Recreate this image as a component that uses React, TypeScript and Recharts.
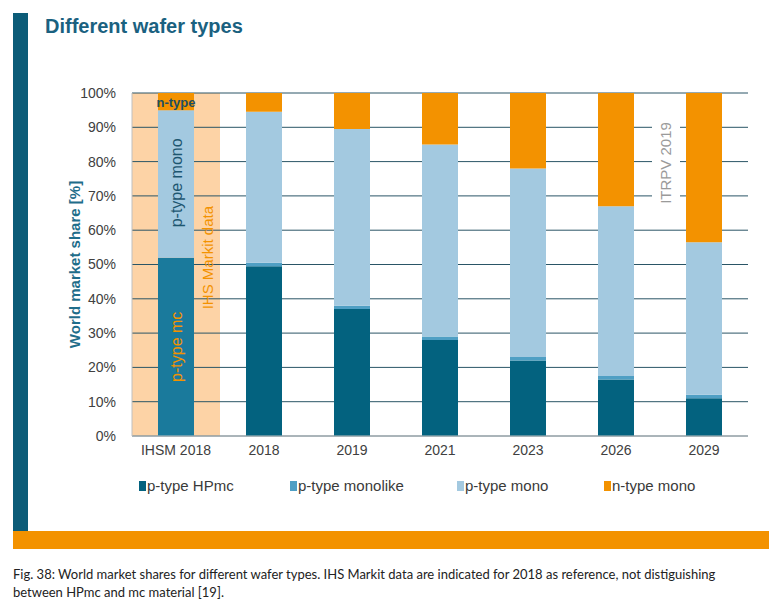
import React from "react";
import { BarChart, Bar, XAxis, YAxis, CartesianGrid, Legend, ReferenceArea, ReferenceDot, Cell } from "recharts";

const categories = ["IHSM 2018", "2018", "2019", "2021", "2023", "2026", "2029"];
const hpmc = [52, 49.5, 37, 28, 22, 16.5, 11];
const monolike = [0, 1, 1, 1, 1, 1, 1];
const mono = [43, 44, 51.5, 56, 55, 49.5, 44.5];
const ntype = [5, 5.5, 10.5, 15, 22, 33, 43.5];
const yTicks = [0, 10, 20, 30, 40, 50, 60, 70, 80, 90, 100];

const seriesNames = ["p-type HPmc", "p-type monolike", "p-type mono", "n-type mono"];
const seriesColors = ["#03627f", "#4f9fc4", "#a3c9e0", "#f39200"];
const ihsmMcColor = "#1a7a9c";

const data = categories.map((category, i) => ({
  category,
  hpmc: hpmc[i],
  monolike: monolike[i],
  mono: mono[i],
  ntype: ntype[i],
}));

const FONT = "Liberation Sans, Arial, sans-serif";

// squares sit at fixed spots in the original legend row
const legendWidths = [151, 167, 147, 120];

function renderLegend() {
  return (
    <div style={{ display: "flex", paddingLeft: 139, fontFamily: FONT, fontSize: 15, color: "#3a3a3a" }}>
      {seriesNames.map((name, i) => (
        <div key={name} style={{ width: legendWidths[i], display: "flex", alignItems: "center" }}>
          <span style={{ width: 7, height: 10, background: seriesColors[i], display: "inline-block", marginRight: 1 }} />
          <span>{name}</span>
        </div>
      ))}
    </div>
  );
}

const vText = (text: string, color: string, size: number, bold: boolean, dx = 0) => (p: any) => (
  <text
    x={p.cx + dx}
    y={p.cy}
    transform={`rotate(-90 ${p.cx + dx} ${p.cy})`}
    textAnchor="middle"
    dominantBaseline="central"
    fill={color}
    fontSize={size}
    fontWeight={bold ? "bold" : "normal"}
    fontFamily={FONT}
  >
    {text}
  </text>
);

export default function App() {
  return (
    <div style={{ position: "relative", width: 776, height: 607, background: "#fff", overflow: "hidden" }}>
      <style>{`body{margin:0}`}</style>
      <div style={{ position: "absolute", left: 13, top: 13, width: 15, height: 518, background: "#0c5c78" }} />
      <div style={{ position: "absolute", left: 13, top: 531, width: 756, height: 18, background: "#f39200" }} />
      <div
        style={{
          position: "absolute",
          left: 45,
          top: 15,
          fontFamily: FONT,
          fontWeight: "bold",
          fontSize: 20,
          color: "#1a6180",
        }}
      >
        Different wafer types
      </div>

      <div style={{ position: "absolute", left: 0, top: 0 }}>
        <BarChart
          width={776}
          height={520}
          data={data}
          barSize={36}
          margin={{ top: 93, right: 28, left: 70, bottom: 54 }}
        >
          <ReferenceArea x1="IHSM 2018" x2="IHSM 2018" y1={0} y2={100} fill="#fdd3a6" fillOpacity={1} stroke="none" zIndex={-150} />
          <CartesianGrid vertical={false} stroke="#2a5566" strokeWidth={1} />
          <XAxis
            dataKey="category"
            tickLine={false}
            axisLine={{ stroke: "#c0c0c0" }}
            tick={{ fill: "#404040", fontSize: 14, fontFamily: FONT }}
            tickMargin={3}
            height={30}
          />
          <YAxis
            domain={[0, 100]}
            allowDataOverflow
            ticks={yTicks}
            tickFormatter={(v) => `${v}%`}
            width={62}
            tickLine={false}
            axisLine={{ stroke: "#c0c0c0" }}
            tick={{ fill: "#404040", fontSize: 14, fontFamily: FONT }}
            tickMargin={10}
            label={{
              value: "World market share [%]",
              angle: -90,
              position: "insideLeft",
              style: { textAnchor: "middle", fill: "#1f6d8a", fontWeight: "bold", fontSize: 15, fontFamily: FONT },
            }}
          />
          <Legend
            content={renderLegend}
            layout="horizontal"
            verticalAlign="middle"
            align="center"
            wrapperStyle={{ top: 477, left: 0, width: 776 }}
          />
          <Bar dataKey="hpmc" stackId="a" name={seriesNames[0]} fill={seriesColors[0]} isAnimationActive={false}>
            {data.map((d, i) => (
              <Cell key={d.category} fill={i === 0 ? ihsmMcColor : seriesColors[0]} />
            ))}
          </Bar>
          <Bar dataKey="monolike" stackId="a" name={seriesNames[1]} fill={seriesColors[1]} isAnimationActive={false} />
          <Bar dataKey="mono" stackId="a" name={seriesNames[2]} fill={seriesColors[2]} isAnimationActive={false} />
          <Bar dataKey="ntype" stackId="a" name={seriesNames[3]} fill={seriesColors[3]} isAnimationActive={false} />

          <ReferenceDot
            x="IHSM 2018"
            y={97.2}
            r={0}
            shape={(p: any) => (
              <text x={p.cx} y={p.cy} textAnchor="middle" dominantBaseline="central" fill="#1d4f63" fontSize={13} fontWeight="bold" fontFamily={FONT}>
                n-type
              </text>
            )}
          />
          <ReferenceDot x="IHSM 2018" y={73.8} r={0} shape={vText("p-type mono", "#1d5670", 16, false, 1)} />
          <ReferenceDot x="IHSM 2018" y={26} r={0} shape={vText("p-type mc", "#f39200", 16, false, 1)} />
          <ReferenceDot x="IHSM 2018" y={52} r={0} shape={vText("IHS Markit data", "#f39200", 15, false, 32)} />
          <ReferenceDot
            x="2029"
            y={79.6}
            r={0}
            shape={(p: any) => (
              <g>
                <rect x={p.cx - 52} y={p.cy - 42} width={28} height={84} fill="#fff" />
                <text
                  x={p.cx - 38}
                  y={p.cy}
                  transform={`rotate(-90 ${p.cx - 38} ${p.cy})`}
                  textAnchor="middle"
                  dominantBaseline="central"
                  fill="#9a9a9a"
                  fontSize={15}
                  fontFamily={FONT}
                >
                  ITRPV 2019
                </text>
              </g>
            )}
          />
        </BarChart>
      </div>

      <div
        style={{
          position: "absolute",
          left: 13,
          top: 565,
          fontFamily: "Lato, 'Open Sans', sans-serif",
          fontSize: 13,
          lineHeight: "18px",
          color: "#222",
          whiteSpace: "nowrap",
        }}
      >
        Fig. 38: World market shares for different wafer types. IHS Markit data are indicated for 2018 as reference, not distiguishing
        <br />
        between HPmc and mc material [19].
      </div>
    </div>
  );
}
